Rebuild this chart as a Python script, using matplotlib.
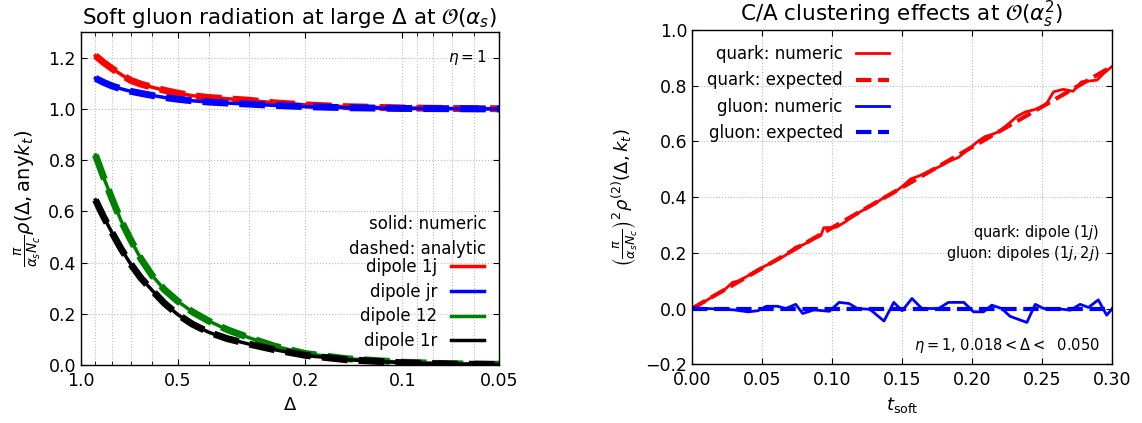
import numpy as np
import matplotlib
matplotlib.use("Agg")
import matplotlib.pyplot as plt
from matplotlib.ticker import FixedLocator, FixedFormatter, NullFormatter

# left panel: rho(Delta) for the four dipoles
delta = [0.9, 0.85, 0.8, 0.75, 0.7, 0.65, 0.6, 0.55, 0.5, 0.45, 0.4, 0.35,
         0.3, 0.25, 0.2, 0.15, 0.1, 0.07, 0.05]
rho_1j = [1.208, 1.182, 1.158, 1.135, 1.112, 1.097, 1.085, 1.073, 1.062, 1.052,
          1.045, 1.040, 1.034, 1.024, 1.016, 1.009, 1.004, 1.002, 1.001]
rho_jr = [1.120, 1.104, 1.090, 1.079, 1.069, 1.061, 1.053, 1.045, 1.038, 1.032,
          1.027, 1.023, 1.019, 1.014, 1.009, 1.005, 1.002, 1.001, 1.000]
rho_12 = [0.820, 0.735, 0.650, 0.565, 0.490, 0.415, 0.350, 0.295, 0.250, 0.208,
          0.172, 0.138, 0.107, 0.074, 0.045, 0.025, 0.011, 0.005, 0.003]
rho_1r = [0.645, 0.580, 0.518, 0.455, 0.395, 0.340, 0.292, 0.242, 0.198, 0.160,
          0.128, 0.103, 0.082, 0.060, 0.038, 0.021, 0.009, 0.004, 0.002]
dipoles = ["dipole 1j", "dipole jr", "dipole 12", "dipole 1r"]
dipole_colors = ["red", "blue", "green", "black"]

delta_ticks = [1.0, 0.5, 0.2, 0.1, 0.05]
delta_labels = ["1.0", "0.5", "0.2", "0.1", "0.05"]

# right panel: C/A clustering at O(as^2)
t_quark = [0.000, 0.005, 0.010, 0.016, 0.022, 0.029, 0.034, 0.040, 0.047, 0.053,
           0.061, 0.067, 0.074, 0.079, 0.087, 0.092, 0.094, 0.103, 0.109, 0.115,
           0.122, 0.129, 0.136, 0.143, 0.150, 0.156, 0.163, 0.170, 0.176, 0.183,
           0.190, 0.198, 0.204, 0.209, 0.214, 0.219, 0.227, 0.232, 0.238, 0.245,
           0.250, 0.253, 0.258, 0.265, 0.272, 0.278, 0.289, 0.294, 0.300]
quark_numeric = [0.000, 0.012, 0.028, 0.047, 0.062, 0.094, 0.100, 0.118, 0.140, 0.155,
                 0.175, 0.192, 0.221, 0.228, 0.250, 0.262, 0.290, 0.292, 0.310, 0.332,
                 0.353, 0.372, 0.395, 0.412, 0.438, 0.465, 0.478, 0.495, 0.508, 0.528,
                 0.542, 0.575, 0.600, 0.617, 0.625, 0.635, 0.668, 0.690, 0.706, 0.715,
                 0.725, 0.735, 0.778, 0.787, 0.780, 0.814, 0.820, 0.845, 0.870]
t_gluon = [0.000, 0.010, 0.020, 0.030, 0.040, 0.047, 0.053, 0.061, 0.067, 0.074,
           0.079, 0.087, 0.098, 0.105, 0.112, 0.118, 0.127, 0.137, 0.144, 0.150,
           0.157, 0.164, 0.176, 0.183, 0.194, 0.201, 0.208, 0.214, 0.221, 0.227,
           0.239, 0.245, 0.251, 0.260, 0.270, 0.277, 0.283, 0.290, 0.296, 0.300]
gluon_numeric = [0.003, 0.000, -0.002, -0.005, -0.012, -0.008, 0.008, 0.008, 0.000, 0.015,
                 -0.018, -0.005, -0.010, 0.022, 0.018, 0.000, -0.003, -0.045, 0.022, -0.008,
                 0.036, 0.000, 0.000, 0.022, 0.022, -0.012, -0.012, 0.012, 0.000, -0.028,
                 -0.050, 0.015, 0.000, 0.000, -0.006, 0.015, 0.004, 0.031, -0.024, 0.000]
t_expected = [0.0, 0.3]
quark_expected = [0.0, 0.87]
gluon_expected = [0.0, 0.0]

plt.rcParams["font.size"] = 12
plt.rcParams["xtick.labelsize"] = 12.5
plt.rcParams["ytick.labelsize"] = 12.5
plt.rcParams["xtick.direction"] = "in"
plt.rcParams["ytick.direction"] = "in"
plt.rcParams["xtick.top"] = True
plt.rcParams["ytick.right"] = True
plt.rcParams["xtick.major.size"] = 4.5
plt.rcParams["ytick.major.size"] = 4.5
plt.rcParams["xtick.minor.size"] = 3
plt.rcParams["xtick.major.pad"] = 5
plt.rcParams["axes.linewidth"] = 1.0

fig = plt.figure(figsize=(11.42, 4.23), dpi=100)
ax1 = fig.add_axes([0.0707, 0.137, 0.3663, 0.787])
ax2 = fig.add_axes([0.606, 0.139, 0.368, 0.790])

grid_kw = dict(color="#bbbbbb", linestyle=":", linewidth=0.8)

# ---- left panel
for vals, name, col in zip([rho_1j, rho_jr, rho_12, rho_1r], dipoles, dipole_colors):
    ax1.plot(delta, vals, color=col, lw=2.5, label=name)
    ax1.plot(delta, vals, color=col, lw=5, ls="--")
ax1.set_xscale("log")
ax1.set_xlim(1.0, 0.05)
ax1.set_ylim(0.0, 1.3)
ax1.xaxis.set_major_locator(FixedLocator(delta_ticks))
ax1.xaxis.set_major_formatter(FixedFormatter(delta_labels))
ax1.xaxis.set_minor_formatter(NullFormatter())
ax1.set_yticks(np.arange(0, 1.21, 0.2))
ax1.grid(True, which="both", **grid_kw)
ax1.set_xlabel(r"$\Delta$", fontsize=13)
ax1.set_ylabel(r"$\frac{\pi}{\alpha_s N_c}\rho(\Delta,\mathrm{any} k_t)$", fontsize=14)
ax1.set_title(r"Soft gluon radiation at large $\Delta$ at $\mathcal{O}(\alpha_s)$", fontsize=15.5)
ax1.legend(loc="lower right", frameon=False, markerfirst=False, labelspacing=0.4)
ax1.text(0.97, 0.385, "solid: numeric\ndashed: analytic", transform=ax1.transAxes,
         ha="right", va="center", multialignment="right", linespacing=1.5)
ax1.text(0.97, 0.925, r"$\eta=1$", transform=ax1.transAxes, ha="right", va="center", fontsize=11)

# ---- right panel
ax2.plot(t_quark, quark_numeric, color="red", lw=2, label="quark: numeric")
ax2.plot(t_expected, quark_expected, color="red", lw=3, ls="--", label="quark: expected")
ax2.plot(t_gluon, gluon_numeric, color="blue", lw=2, label="gluon: numeric")
ax2.plot(t_expected, gluon_expected, color="blue", lw=3, ls="--", label="gluon: expected")
ax2.set_xlim(0, 0.3)
ax2.set_ylim(-0.2, 1.0)
ax2.set_xticks(np.arange(0, 0.301, 0.05))
ax2.set_xticklabels(["0.00", "0.05", "0.10", "0.15", "0.20", "0.25", "0.30"])
ax2.set_yticks(np.arange(-0.2, 1.01, 0.2))
ax2.grid(True, **grid_kw)
ax2.set_xlabel(r"$t_{\mathrm{soft}}$", fontsize=13)
ax2.set_ylabel(r"$\left(\frac{\pi}{\alpha_s N_c}\right)^2\rho^{(2)}(\Delta,k_t)$", fontsize=13)
ax2.set_title(r"C/A clustering effects at $\mathcal{O}(\alpha_s^2)$", fontsize=15.5)
ax2.legend(loc="upper left", frameon=False, markerfirst=False)
ax2.text(0.97, 0.395, r"quark: dipole $(1j)$", transform=ax2.transAxes,
         ha="right", va="center", fontsize=10.5)
ax2.text(0.97, 0.332, r"gluon: dipoles $(1j,2j)$", transform=ax2.transAxes,
         ha="right", va="center", fontsize=10.5)
ax2.text(0.97, 0.057, r"$\eta=1$, $0.018<\Delta<$  0.050", transform=ax2.transAxes,
         ha="right", va="center", fontsize=10.5)

fig.savefig("out.png", dpi=100)
